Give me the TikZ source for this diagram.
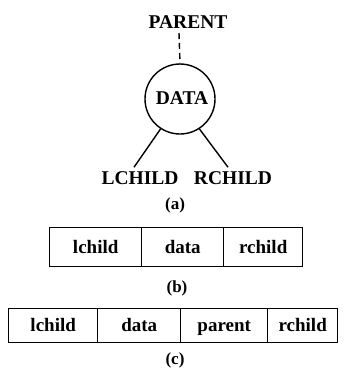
\documentclass[tikz,border=0pt]{standalone}
\usepackage{fontspec}
\setmainfont{Liberation Serif}
\begin{document}
\begin{tikzpicture}[x=1pt,y=-1pt,
  lbl/.style={font=\fontsize{19.5}{22}\selectfont\bfseries, inner sep=0pt},
  sublabel/.style={font=\fontsize{17}{19}\selectfont\bfseries, inner sep=0pt},
  cell/.style={draw, line width=1.4pt, font=\fontsize{19}{20}\selectfont\bfseries, inner sep=0pt, text height=16pt, text depth=4pt, anchor=north west},
  edge/.style={line width=1.4pt}]
\useasboundingbox (0,0) rectangle (343,375);
% (a)
\node[lbl] (parent) at (188,22) {PARENT};
\node[draw, circle, line width=1.4pt, minimum size=70pt, inner sep=0pt] (c) at (180,99) {};
\node[lbl] (data) at (182,98) {DATA};
\node[lbl] (lc) at (140,178) {LCHILD};
\node[lbl] (rc) at (233,178) {RCHILD};
\draw[edge, dash pattern=on 6pt off 4pt] (179,33) -- (c.north);
\draw[edge] (c.237) -- ([xshift=-6pt,yshift=4pt]lc.north);
\draw[edge] (c.303) -- ([xshift=-5pt,yshift=4pt]rc.north);
\node[sublabel] (la) at (175,205) {(a)};
% (b)
\node[cell, minimum width=92pt, minimum height=39pt] (b1) at (49,227) {lchild};
\node[cell, minimum width=82pt, minimum height=39pt] (b2) at (141,227) {data};
\node[cell, minimum width=79pt, minimum height=39pt] (b3) at (223,227) {rchild};
\node[sublabel] (lb) at (177,288) {(b)};
% (c)
\node[cell, minimum width=89pt, minimum height=34pt] (c1) at (8,308) {lchild};
\node[cell, minimum width=83pt, minimum height=34pt] (c2) at (97,308) {data};
\node[cell, minimum width=87pt, minimum height=34pt] (c3) at (180,308) {parent};
\node[cell, minimum width=70pt, minimum height=34pt] (c4) at (267,308) {rchild};
\node[sublabel] (lcap) at (175,360) {(c)};
\end{tikzpicture}
\end{document}
